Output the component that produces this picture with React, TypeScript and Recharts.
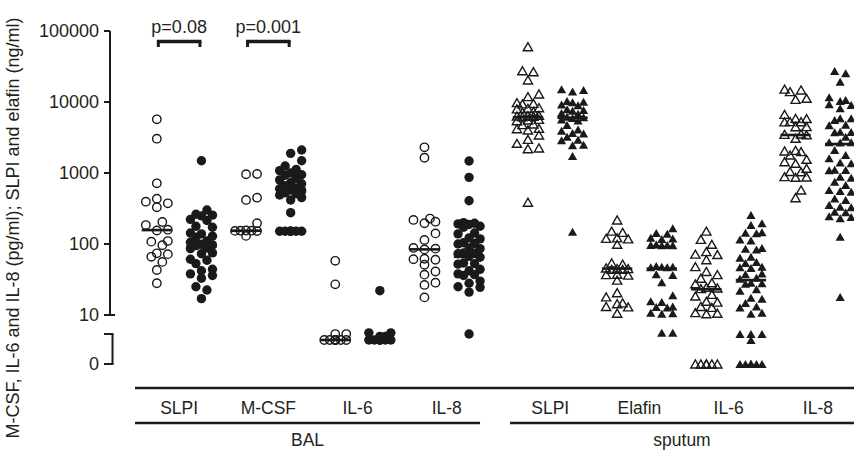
import React from 'react';
import { ScatterChart, Scatter, XAxis, YAxis, ReferenceLine, ReferenceDot } from 'recharts';

if (typeof document !== 'undefined') document.body.style.margin = '0';

// values (pg/ml or ng/ml), values < 10 sit on the broken lower segment
const balSlpiOpen = [5700, 3040, 716, 434, 394, 374, 329, 204, 185, 159, 155, 110, 108, 96, 74, 72, 66, 56, 43, 28];
const balSlpiFilled = [1490, 301, 262, 255, 249, 222, 214, 178, 172, 143, 139, 129, 125, 110, 106, 99, 97, 95, 88, 86, 75, 73, 61, 59, 53, 44, 42, 38, 36, 33, 25, 22.5, 17];
const balMcsfOpen = [968, 960, 449, 417, 196, 155, 154, 154, 153, 152, 130];
const balMcsfFilled = [2110, 1890, 1490, 1256, 1120, 1080, 1000, 945, 930, 841, 800, 730, 705, 660, 615, 600, 576, 560, 525, 510, 490, 450, 417, 276, 151, 151, 151, 151, 151, 151, 151];
const balIl6Open = [58, 27, 5, 5, 4, 4, 4, 4, 4, 4, 4];
const balIl6Filled = [22, 5.2, 5.2, 4.6, 4.6, 4, 4, 4, 4, 4, 4, 4, 4];
const balIl8Open = [2300, 1640, 228, 218, 206, 196, 141, 114, 88, 86, 84, 62, 61, 60, 51, 41, 37, 28.5, 26.5, 17.7];
const balIl8Filled = [1476, 869, 407, 200, 196, 192, 188, 178, 172, 143, 139, 122, 118, 104, 102, 100, 88, 86, 75, 74, 73, 67, 65, 54, 53, 52, 44, 42, 38, 37, 36, 30, 28, 25, 24.5, 21, 5];
const spSlpiOpen = [60100, 27600, 26700, 20400, 12970, 11900, 9800, 9570, 9400, 8300, 8150, 8000, 7400, 7200, 6500, 6400, 6350, 6300, 6200, 5700, 5570, 5450, 4900, 4800, 4250, 4200, 4030, 3430, 2980, 2620, 2250, 2200, 387];
const spSlpiFilled = [15100, 14760, 14000, 10300, 10100, 9900, 9200, 9000, 7900, 7700, 7550, 7000, 6850, 6200, 6080, 5950, 5650, 5500, 4740, 4100, 3950, 3650, 3600, 3250, 2950, 2900, 2500, 2450, 1735, 149];
const spElafinOpen = [218, 152, 146, 122, 120, 118, 99, 54, 52, 46, 45, 45, 44, 44, 37.5, 37, 36.5, 31, 20.6, 18, 14.8, 14.4, 13.2, 13, 10.6];
const spElafinFilled = [166, 143, 139, 122, 120, 118, 98, 97, 97, 96, 96, 49, 48, 48, 47, 47, 37.5, 36.5, 29, 19, 15.6, 15.2, 13.2, 13, 12.8, 10.8, 10.6, 10.4, 5.2, 5.2];
const spIl6Open = [152, 116, 99, 78, 72, 71, 60, 48, 41, 37, 33, 28.5, 27.5, 24.5, 24, 23.5, 19.5, 18.5, 15.6, 15.2, 13.2, 12.8, 10.8, 10.6, 10.4, 0, 0, 0, 0, 0, 0];
const spIl6Filled = [256, 196, 185, 146, 144, 142, 116, 112, 88, 86, 84, 66, 64, 56, 54, 48, 47, 46, 38.5, 37.5, 33.5, 32.5, 28.5, 28, 27.5, 23, 22, 17.5, 17, 14.8, 13.2, 12.8, 10.8, 10.4, 5, 5, 5, 4, 0, 0, 0, 0, 0, 0, 0];
const spIl8Open = [15200, 14760, 14000, 11270, 10900, 6700, 5890, 5850, 5300, 5280, 5250, 4500, 4480, 3550, 3500, 3450, 3080, 2080, 2040, 2000, 1790, 1560, 1440, 1370, 1165, 1050, 1040, 890, 880, 870, 576, 449];
const spIl8Filled = [27300, 25400, 19300, 11700, 10700, 10300, 9300, 9100, 8150, 5900, 5890, 5600, 4800, 4700, 3800, 3780, 3750, 3250, 2720, 2700, 2680, 2110, 1790, 1610, 1410, 1370, 1110, 1100, 1090, 887, 859, 754, 678, 576, 560, 546, 439, 417, 354, 335, 330, 285, 280, 245, 240, 230, 127, 18];

const groupValues = [
  balSlpiOpen, balSlpiFilled, balMcsfOpen, balMcsfFilled, balIl6Open, balIl6Filled, balIl8Open, balIl8Filled,
  spSlpiOpen, spSlpiFilled, spElafinOpen, spElafinFilled, spIl6Open, spIl6Filled, spIl8Open, spIl8Filled,
];
const medians = [157, 92, 154, 600, 4, 4, 84, 66, 6090, 6000, 45, 45, 23, 31, 3430, 2560];

const categoryLabels = ['SLPI', 'M-CSF', 'IL-6', 'IL-8', 'SLPI', 'Elafin', 'IL-6', 'IL-8'];
const sampleLabels = ['BAL', 'sputum'];
const yTickValues = [0, 10, 100, 1000, 10000, 100000];
const pLabels = ['p=0.08', 'p=0.001'];

const FONT = '"Liberation Sans", Arial, Helvetica, sans-serif';
const INK = '#1a1a1a';
const TEXT = '#231f20';

// axis geometry (in axis units)
const X_MIN = -1.05;
const X_MAX = 15.63;
const Y_MIN = -0.95;
const Y_MAX = 5;
const PX_X = 44.6;
const PX_Y = 71;
const ZERO_T = 0.31;
const BREAK_T = 0.732;
const SPUTUM_SHIFT = 0.32;

const toAxis = (v: number) => (v >= 10 ? Math.log10(v) : ZERO_T + (v / 5) * (BREAK_T - ZERO_T));
const posOf = (i: number) => (i < 8 ? i : i + SPUTUM_SHIFT);
const xPx = (px: number) => X_MIN + (px - 110) / PX_X;
const yPx = (py: number) => Y_MAX - (py - 31) / PX_Y;

// simple beeswarm: each point takes the nearest column that does not overlap
function swarm(values: number[], pos: number, d = 9) {
  const step = 5.5;
  const cands = [0, 1, -1, 2, -2].map((k) => k * step);
  const placed: { px: number; py: number; t: number }[] = [];
  [...values].sort((a, b) => a - b).forEach((v) => {
    const t = toAxis(v);
    const py = -t * PX_Y;
    let best = 0;
    let bestScore = -1;
    for (const c of cands) {
      let minD = Infinity;
      for (const p of placed) minD = Math.min(minD, Math.hypot(p.px - c, p.py - py));
      if (minD >= d) { best = c; break; }
      if (minD > bestScore) { bestScore = minD; best = c; }
    }
    placed.push({ px: best, py, t });
  });
  return placed.map((p) => ({ x: pos + p.px / PX_X, y: p.t }));
}

const marker = (kind: string) => (props: any) => {
  const { cx, cy } = props;
  if (cx == null || cy == null) return <g />;
  if (kind === 'circleOpen') return <circle cx={cx} cy={cy} r={4.2} fill="none" stroke={INK} strokeWidth={1.4} />;
  if (kind === 'circleFilled') return <circle cx={cx} cy={cy} r={4.7} fill={INK} />;
  const w = 4.6, h = 8;
  const d = `M${cx - w},${cy + h / 2} L${cx},${cy - h / 2} L${cx + w},${cy + h / 2} Z`;
  if (kind === 'triOpen') return <path d={d} fill="none" stroke={INK} strokeWidth={1.4} strokeLinejoin="miter" />;
  return <path d={d} fill={INK} />;
};

const seg = (x1: number, y1: number, x2: number, y2: number, w: number, key: string) => (
  <ReferenceLine
    key={key}
    segment={[{ x: x1, y: y1 }, { x: x2, y: y2 }]}
    stroke={INK}
    strokeWidth={w}
    ifOverflow="visible"
  />
);

const textAt = (x: number, y: number, value: string, size: number, key: string) => (
  <ReferenceDot
    key={key}
    x={x}
    y={y}
    r={0}
    fill="none"
    stroke="none"
    ifOverflow="visible"
    label={{ value, position: 'center', fill: TEXT, fontSize: size, fontFamily: FONT }}
  />
);

export default function App() {
  const yTicks = [ZERO_T, BREAK_T, ...yTickValues.slice(1).map(toAxis)];
  const tickLabel = (t: number) => {
    if (Math.abs(t - BREAK_T) < 1e-6) return '';
    if (Math.abs(t - ZERO_T) < 1e-6) return '0';
    return String(Math.round(Math.pow(10, t)));
  };
  const axisX = X_MIN;
  const lowX = X_MIN + 2.5 / PX_X;
  const lineY = yPx(388);
  const catY = yPx(408);
  const groupLineY = yPx(423);
  const groupY = yPx(440);
  const bracketY = yPx(41.5);
  const bracketFoot = yPx(47);
  const pY = yPx(27);

  return (
    <ScatterChart width={854} height={455} margin={{ top: 31, right: 0, bottom: 1.55, left: 0 }}>
      <XAxis type="number" dataKey="x" domain={[X_MIN, X_MAX]} allowDataOverflow hide />
      <YAxis
        type="number"
        dataKey="y"
        domain={[Y_MIN, Y_MAX]}
        allowDataOverflow
        width={110}
        ticks={yTicks}
        interval={0}
        tickFormatter={tickLabel}
        axisLine={false}
        tickSize={6}
        tickMargin={5}
        tickLine={{ stroke: INK, strokeWidth: 2 }}
        tick={{ fill: TEXT, fontSize: 18, fontFamily: FONT }}
        label={{
          content: () => (
            <text
              x={13}
              y={228}
              transform="rotate(-90 13 228)"
              textAnchor="middle"
              dominantBaseline="central"
              fill={TEXT}
              fontSize={18}
              fontFamily={FONT}
            >
              M-CSF, IL-6 and IL-8 (pg/ml); SLPI and elafin (ng/ml)
            </text>
          ),
        }}
      />

      {/* broken y axis */}
      {seg(axisX, 1, axisX, Y_MAX, 2, 'ax-up')}
      {seg(axisX, 1, axisX + 5 / PX_X, 1, 2, 'ax-10')}
      {seg(lowX, ZERO_T, lowX, BREAK_T, 2, 'ax-low')}
      {seg(axisX - 1 / PX_X, ZERO_T, lowX + 1 / PX_X, ZERO_T, 2, 'ax-0')}
      {seg(axisX - 1 / PX_X, BREAK_T, lowX + 1 / PX_X, BREAK_T, 2, 'ax-brk')}

      {groupValues.map((vals, i) => {
        const kind = i < 8 ? (i % 2 ? 'circleFilled' : 'circleOpen') : i % 2 ? 'triFilled' : 'triOpen';
        return (
          <Scatter
            key={`g${i}`}
            data={swarm(vals, posOf(i))}
            shape={marker(kind)}
            isAnimationActive={false}
          />
        );
      })}

      {medians.map((m, i) => seg(posOf(i) - 0.34, toAxis(m), posOf(i) + 0.34, toAxis(m), 2.6, `med${i}`))}

      {/* significance brackets */}
      {pLabels.map((p, k) => {
        const a = posOf(2 * k);
        const b = posOf(2 * k + 1);
        return (
          <g key={`p${k}`}>
            {seg(a, bracketY, b, bracketY, 3.5, `pb${k}`)}
            {seg(a + 1.5 / PX_X, bracketY, a + 1.5 / PX_X, bracketFoot, 3, `pl${k}`)}
            {seg(b - 1.5 / PX_X, bracketY, b - 1.5 / PX_X, bracketFoot, 3, `pr${k}`)}
            {textAt((a + b) / 2, pY, p, 18, `pt${k}`)}
          </g>
        );
      })}

      {/* category axis */}
      {seg(xPx(135), lineY, X_MAX, lineY, 2.5, 'cat-line')}
      {categoryLabels.map((c, k) => textAt((posOf(2 * k) + posOf(2 * k + 1)) / 2, catY, c, 17.5, `c${k}`))}
      {seg(xPx(135), groupLineY, xPx(480), groupLineY, 2.5, 'bal-line')}
      {seg(xPx(510), groupLineY, X_MAX, groupLineY, 2.5, 'sp-line')}
      {textAt((xPx(135) + xPx(480)) / 2, groupY, sampleLabels[0], 17.5, 's0')}
      {textAt((xPx(510) + X_MAX) / 2, groupY, sampleLabels[1], 17.5, 's1')}
    </ScatterChart>
  );
}
